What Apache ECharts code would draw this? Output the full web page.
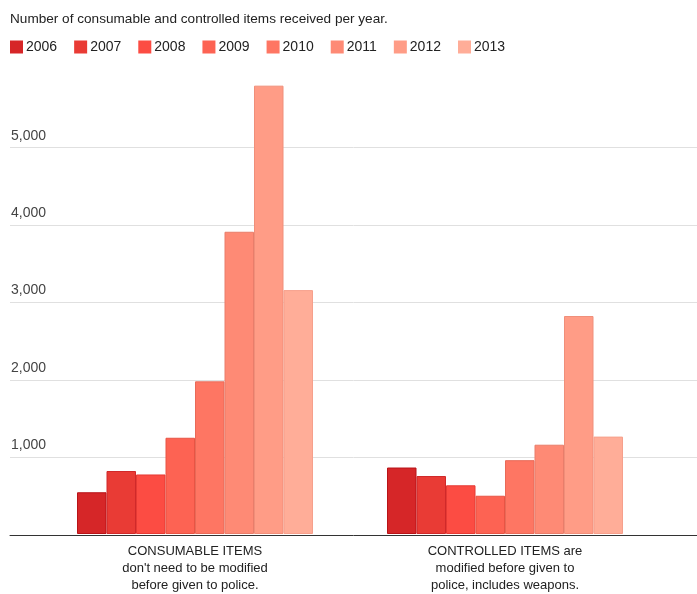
<!DOCTYPE html>
<html>
<head>
<meta charset="utf-8">
<script src="https://cdn.jsdelivr.net/npm/echarts@6/dist/echarts.min.js"></script>
<style>html,body{margin:0;padding:0;background:#fff}#c{width:697px;height:594px}</style>
</head>
<body>
<div id="c"></div>
<script>
const categories = [
  "CONSUMABLE ITEMS\ndon't need to be modified\nbefore given to police.",
  "CONTROLLED ITEMS are\nmodified before given to\npolice, includes weapons."
];
const years = ["2006","2007","2008","2009","2010","2011","2012","2013"];
const consumable = [540, 815, 770, 1245, 1975, 3910, 5800, 3155];
const controlled = [860, 750, 630, 495, 955, 1155, 2820, 1260];
const yTicks = [0, 1000, 2000, 3000, 4000, 5000, 6000];

const colors = ["#d62628","#e93b35","#fc4c43","#fd6353","#fe7663","#fe8a75","#ff9c86","#ffad98"];
const borders = ["#b81318","#d0292a","#e63a34","#e85444","#e86a58","#e97d6a","#f08f7a","#f6a08c"];
const FONT = "'Liberation Sans', Arial, sans-serif";

const series = years.map((y, i) => ({
  name: y,
  type: 'bar',
  xAxisIndex: 0,
  yAxisIndex: 0,
  barWidth: 29.5,
  barGap: '0%',
  data: [consumable[i], controlled[i]],
  itemStyle: { color: colors[i], borderColor: borders[i], borderWidth: 1 },
  emphasis: { disabled: true }
}));

const chart = echarts.init(document.getElementById('c'), null, { renderer: 'canvas' });
chart.setOption({
  animation: false,
  textStyle: { fontFamily: FONT },
  title: {
    text: 'Number of consumable and controlled items received per year.',
    left: 5, top: 7,
    textStyle: { fontSize: 13.6, fontWeight: 'normal', color: '#222', fontFamily: FONT }
  },
  legend: {
    data: years,
    left: 10, top: 40,
    icon: 'rect',
    itemWidth: 13, itemHeight: 13,
    itemGap: 17,
    padding: 0,
    itemStyle: { borderWidth: 0 },
    textStyle: { fontSize: 14, color: '#222', fontFamily: FONT, padding: [0, 0, 0, -2] }
  },
  grid: [
    { left: 40, right: 37, top: 70.2, bottom: 59, containLabel: false },
    { left: 10, right: 0, top: 70.2, bottom: 59, containLabel: false }
  ],
  xAxis: [
    {
      type: 'category', gridIndex: 0, data: categories,
      axisLine: { show: false }, axisTick: { show: false },
      axisLabel: { margin: 9, fontSize: 13, lineHeight: 17, color: '#222', fontFamily: FONT, interval: 0 }
    },
    {
      type: 'category', gridIndex: 1, data: [''], z: 5,
      axisLine: { show: true, lineStyle: { color: '#333', width: 1 } },
      axisTick: { show: false }, axisLabel: { show: false }
    }
  ],
  yAxis: [
    {
      type: 'value', gridIndex: 0, min: yTicks[0], max: yTicks[yTicks.length - 1], interval: 1000,
      show: false, splitLine: { show: false }
    },
    {
      type: 'value', gridIndex: 1, min: yTicks[0], max: yTicks[yTicks.length - 1], interval: 1000,
      axisLine: { show: false }, axisTick: { show: false },
      splitLine: { show: true, lineStyle: { color: ['transparent','#e0e0e0','#e0e0e0','#e0e0e0','#e0e0e0','#e0e0e0','transparent'], width: 1 } },
      axisLabel: {
        inside: true, margin: 1, align: 'left', verticalAlign: 'bottom',
        padding: [0, 0, 5, 0], fontSize: 14, color: '#444', fontFamily: FONT,
        formatter: v => (v === 0 || v === 6000) ? '' : v.toLocaleString('en-US')
      }
    }
  ],
  series: series
});
</script>
</body>
</html>
